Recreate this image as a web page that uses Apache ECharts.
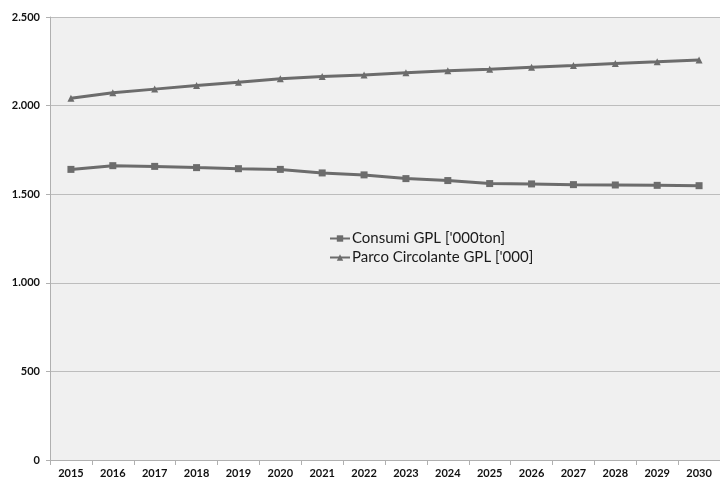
<!DOCTYPE html>
<html><head><meta charset="utf-8">
<script src="https://cdn.jsdelivr.net/npm/echarts@6/dist/echarts.min.js"></script>
<style>html,body{margin:0;padding:0;background:#fff}#c{width:720px;height:479px}</style>
</head><body><div id="c"></div>
<script>
const years = ['2015','2016','2017','2018','2019','2020','2021','2022','2023','2024','2025','2026','2027','2028','2029','2030'];
const consumi = [1640,1661,1657,1650,1644,1640,1620,1609,1588,1577,1560,1558,1554,1552,1550,1548];
const parco = [2042,2072,2093,2113,2132,2151,2164,2173,2185,2196,2205,2217,2226,2237,2247,2258];
const yTicks = {min:0, max:2500, interval:500};
const names = ["Consumi GPL ['000ton]", "Parco Circolante GPL ['000]"];

const chart = echarts.init(document.getElementById('c'), null, {renderer:'canvas'});
const lineColor = '#6c6c6c';
chart.setOption({
  animation:false,
  backgroundColor:'#ffffff',
  grid:{left:50, top:17, width:677, height:444, show:true, backgroundColor:'#f0f0f0', borderWidth:0},
  legend:{
    orient:'vertical', left:324, top:226, itemGap:4, itemWidth:20, itemHeight:8,
    textStyle:{fontFamily:'Lato, "Open Sans", sans-serif', fontSize:15, color:'#1a1a1a', padding:[0,0,0,-3]},
    data:names
  },
  xAxis:{
    type:'category', data:years, boundaryGap:true,
    axisLine:{lineStyle:{color:'#b0b0b0'}},
    axisTick:{show:true, alignWithLabel:false, length:5, lineStyle:{color:'#b0b0b0'}},
    axisLabel:{fontFamily:'Lato, "Open Sans", sans-serif', fontWeight:'bold', fontSize:11, color:'#111', margin:8, interval:0}
  },
  yAxis:{
    type:'value', min:yTicks.min, max:yTicks.max, interval:yTicks.interval,
    axisLine:{show:true, lineStyle:{color:'#b0b0b0'}},
    axisTick:{show:true, length:4, lineStyle:{color:'#b0b0b0'}},
    splitLine:{lineStyle:{color:'#bdbdbd', width:1}},
    axisLabel:{fontFamily:'Lato, "Open Sans", sans-serif', fontWeight:'bold', fontSize:11, color:'#111', margin:10,
      formatter:v => v.toLocaleString('de-DE')}
  },
  series:[
    {name:names[0], type:'line', data:consumi, symbol:'rect', symbolSize:7,
      lineStyle:{color:lineColor, width:3}, itemStyle:{color:lineColor}},
    {name:names[1], type:'line', data:parco, symbol:'triangle', symbolSize:7,
      lineStyle:{color:lineColor, width:3}, itemStyle:{color:lineColor}}
  ]
});
</script></body></html>
